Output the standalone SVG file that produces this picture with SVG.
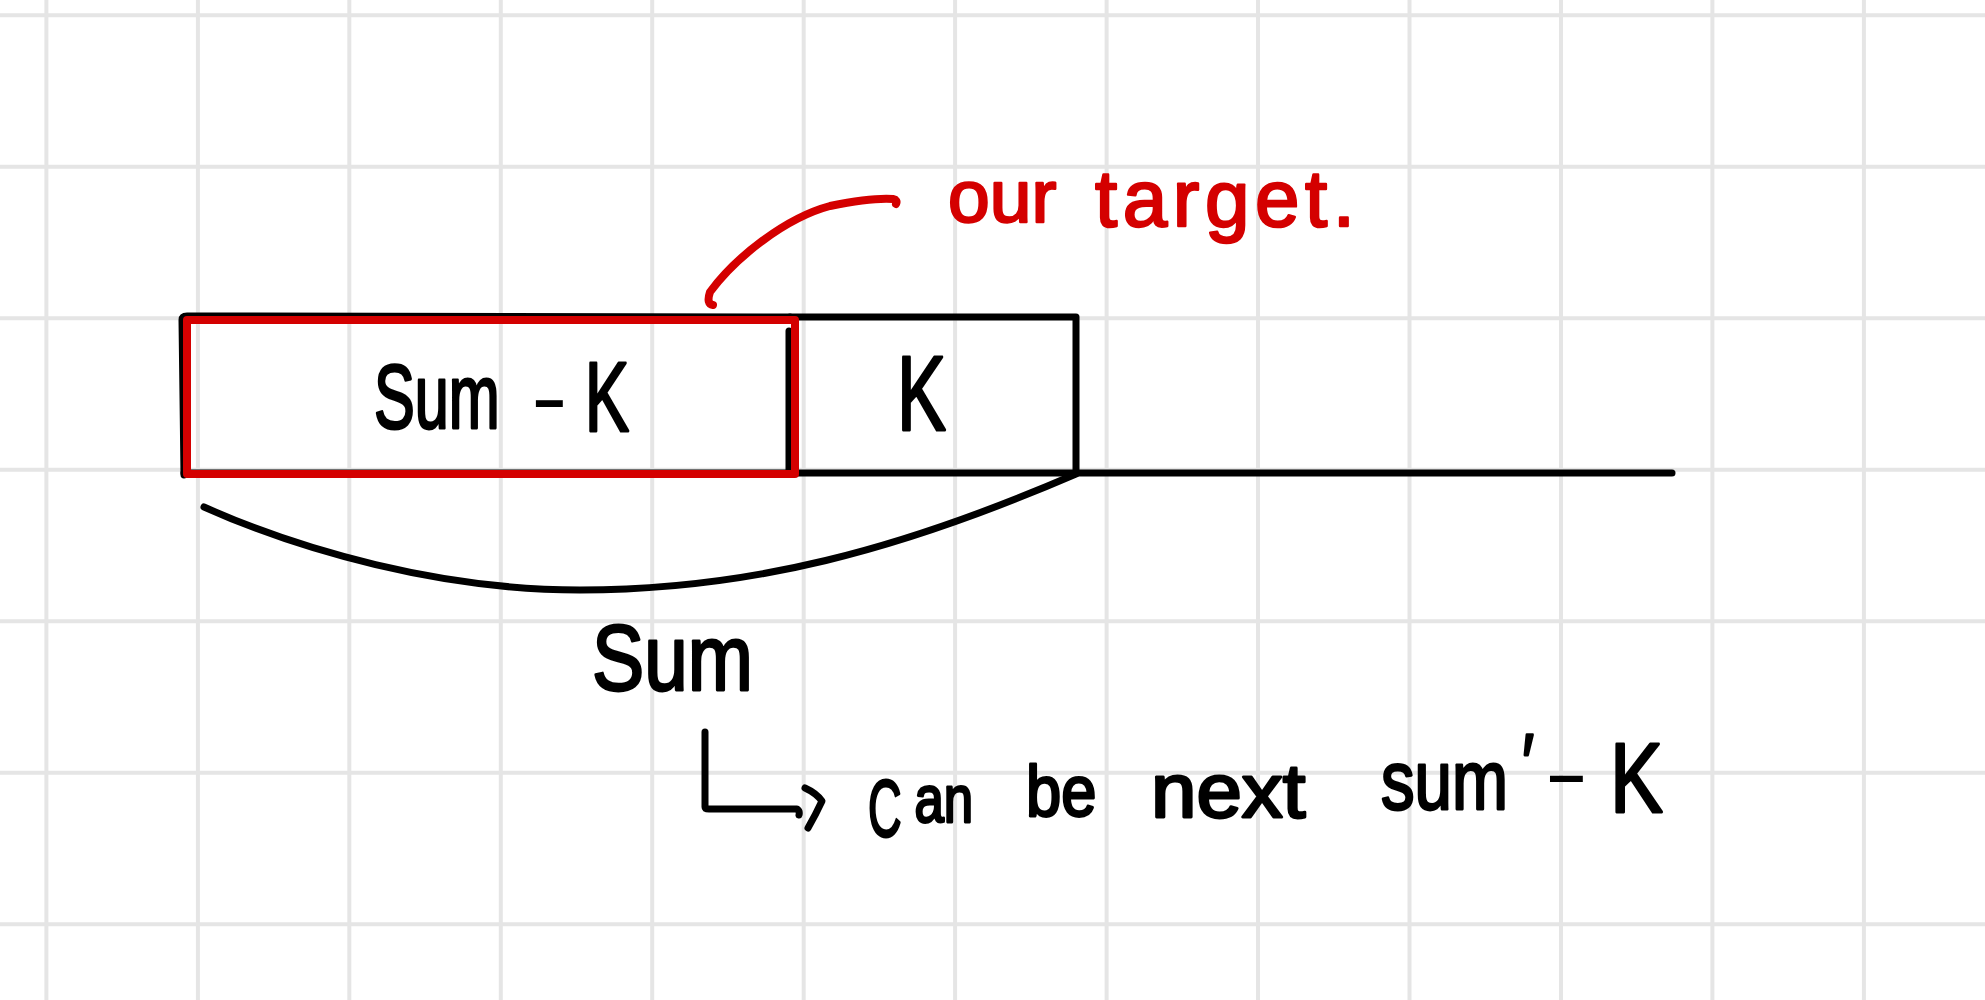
<svg xmlns="http://www.w3.org/2000/svg" width="1985" height="1000" viewBox="0 0 1985 1000">
  <defs>
    <style>
      .grid line { stroke: #e5e5e5; stroke-width: 4; }
      .ink { fill: none; stroke: #000; stroke-width: 7; stroke-linecap: round; stroke-linejoin: round; }
      .red { fill: none; stroke: #d40000; stroke-width: 8; stroke-linecap: round; stroke-linejoin: round; }
      .hw { font-family: "Liberation Sans", Arial, "DejaVu Sans", sans-serif; fill: #000; stroke: #000; stroke-width: 2.8; stroke-linejoin: round; }
      .hw-red { font-family: "Liberation Sans", Arial, "DejaVu Sans", sans-serif; fill: #d40000; stroke: #d40000; stroke-width: 2.4; stroke-linejoin: round; }
      .thin { stroke: none; }
    </style>
  </defs>
  <rect width="1985" height="1000" fill="#ffffff"/>

  <g id="grid" class="grid">
    <line x1="46.4" y1="0" x2="46.4" y2="1000"/>
    <line x1="197.9" y1="0" x2="197.9" y2="1000"/>
    <line x1="349.3" y1="0" x2="349.3" y2="1000"/>
    <line x1="500.8" y1="0" x2="500.8" y2="1000"/>
    <line x1="652.2" y1="0" x2="652.2" y2="1000"/>
    <line x1="803.7" y1="0" x2="803.7" y2="1000"/>
    <line x1="955.1" y1="0" x2="955.1" y2="1000"/>
    <line x1="1106.6" y1="0" x2="1106.6" y2="1000"/>
    <line x1="1258" y1="0" x2="1258" y2="1000"/>
    <line x1="1409.5" y1="0" x2="1409.5" y2="1000"/>
    <line x1="1561" y1="0" x2="1561" y2="1000"/>
    <line x1="1712.4" y1="0" x2="1712.4" y2="1000"/>
    <line x1="1863.9" y1="0" x2="1863.9" y2="1000"/>
    <line x1="0" y1="15.3" x2="1985" y2="15.3"/>
    <line x1="0" y1="166.8" x2="1985" y2="166.8"/>
    <line x1="0" y1="318.3" x2="1985" y2="318.3"/>
    <line x1="0" y1="469.8" x2="1985" y2="469.8"/>
    <line x1="0" y1="621.3" x2="1985" y2="621.3"/>
    <line x1="0" y1="772.8" x2="1985" y2="772.8"/>
    <line x1="0" y1="924.3" x2="1985" y2="924.3"/>
  </g>

  <g id="baseline">
    <path class="ink" d="M184,473 L1672,473"/>
  </g>

  <g id="box-k">
    <path class="ink" d="M790,317 L1076,317 L1076,473"/>
    <text class="hw" transform="scale(0.7 1)" x="1281.4" y="430" font-size="105">K</text>
  </g>

  <g id="box-sum-minus-k">
    <path class="ink" d="M184,475 L182,320 Q182,316 187,316 L790,317"/>
    <path class="ink" d="M789,331 L789,472"/>
    <path class="red" d="M187,320 L795,320 L795,474 L187,474 Z"/>
    <text class="hw" transform="scale(0.68 1)"><tspan x="550" y="428" font-size="90">Sum</tspan> <tspan class="thin" x="781" y="427" font-size="88" textLength="54" lengthAdjust="spacingAndGlyphs">-</tspan><tspan x="860" y="431" font-size="98">K</tspan></text>
  </g>

  <g id="label-our-target">
    <text class="hw-red"><tspan x="948" y="222" font-size="75">our</tspan> <tspan x="1095" y="226" font-size="80" textLength="260" lengthAdjust="spacing">target.</tspan></text>
  </g>

  <g id="label-sum">
    <text class="hw" transform="scale(0.85 1)" x="696.5" y="690" font-size="92">Sum</text>
  </g>

  <g id="label-can-be-next">
    <text class="hw" transform="scale(0.8 1)"><tspan x="1085" y="836" font-size="80" textLength="42" lengthAdjust="spacingAndGlyphs">C</tspan><tspan x="1143" y="822" font-size="66">an</tspan> <tspan x="1282.5" y="816" font-size="72" textLength="88" lengthAdjust="spacingAndGlyphs">be</tspan> <tspan x="1438.75" y="817" font-size="76" textLength="193" lengthAdjust="spacingAndGlyphs">next</tspan> <tspan x="1726.25" y="809" font-size="84">sum</tspan><tspan x="1902.5" y="790" font-size="80">′</tspan><tspan class="thin" x="1930" y="800" font-size="80" textLength="56" lengthAdjust="spacingAndGlyphs">-</tspan><tspan x="2012.5" y="812" font-size="99">K</tspan></text>
  </g>

  <g id="connectors">
    <path id="leader" class="red" d="M713,305 Q706,304 710,292 C735,258 785,218 830,206 C860,200 880,198 893,199 Q898,200 896,204"/>
    <path id="sum-arc" class="ink" d="M204,507 C300,550 440,590 580,590 C750,590 900,550 1076,474"/>
    <path id="l-arrow" class="ink" d="M705,732 L705,807 Q705,809 709,809 L797,809 Q800,811 799,815"/>
    <path id="l-arrowhead" class="ink" d="M805,788 Q816,793 822,801 Q816,814 808,828"/>
  </g>
</svg>
